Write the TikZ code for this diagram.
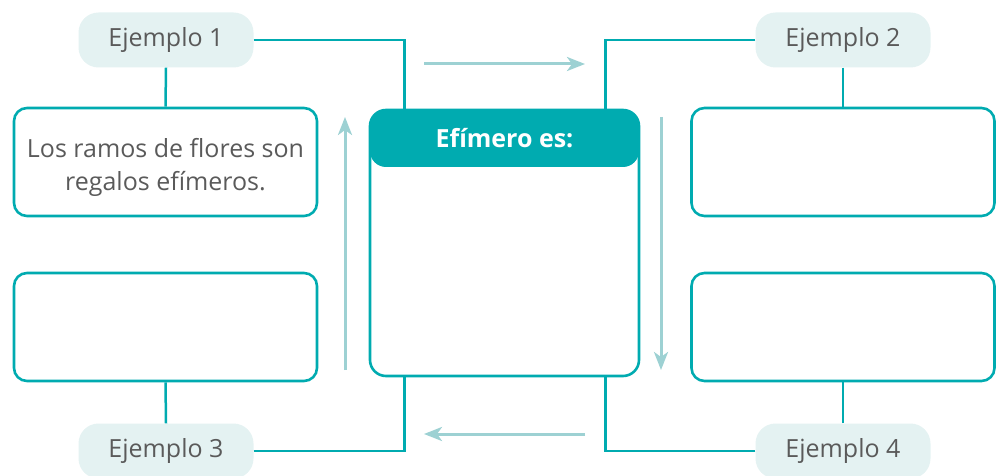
\documentclass[tikz,border=0pt]{standalone}
\usepackage{fontspec}
\setmainfont{Open Sans}
\usepackage{tikz}
\usetikzlibrary{positioning,calc,arrows.meta}
\definecolor{turq}{HTML}{00ABB0}
\definecolor{pillfill}{HTML}{E4F2F2}
\definecolor{flecha}{HTML}{9DD1D3}
\definecolor{gris}{HTML}{5A5A5A}

\begin{document}
\begin{tikzpicture}[x=1pt, y=-1pt,
    font=\fontsize{25}{33}\selectfont, text=gris,
    pill/.style={fill=pillfill, rounded corners=20pt, minimum width=175pt, minimum height=55pt, inner sep=0pt},
    box/.style={draw=turq, line width=2.6pt, rounded corners=13pt, minimum width=303pt, minimum height=108pt, align=center},
    link/.style={draw=turq, line width=2.5pt},
    flow/.style={draw=flecha, line width=3pt, -{Stealth[length=18pt, width=14pt, inset=5pt]}}]
    \useasboundingbox (0,0) rectangle (1002,476);

    % examples and their boxes
    \node[pill] (E1) at (166,40) {Ejemplo 1};
    \node[pill] (E2) at (843,40) {Ejemplo 2};
    \node[pill] (E3) at (166,451) {Ejemplo 3};
    \node[pill] (E4) at (843,451) {Ejemplo 4};

    \node[box] (B1) at (165.5,162) {};
    \node[box] (B2) at (843,162) {};
    \node[box] (B3) at (165.5,327) {};
    \node[box] (B4) at (843,327) {};
    \node[align=center] (txt1) at ([yshift=-5pt]B1.center) {Los ramos de flores son\\regalos efímeros.};

    \foreach \i in {1,2} {
        \draw[link] (E\i.south) -- (B\i.north);
    }
    \foreach \i in {3,4} {
        \draw[link] (E\i.north) -- (B\i.south);
    }

    % central box
    \node[box, minimum width=269pt, minimum height=266pt, rounded corners=16pt,
        path picture={\fill[turq] (path picture bounding box.north west) rectangle ([yshift=-57pt]path picture bounding box.north east);}]
        (centro) at (504.5,243) {};
    \node[text=white, font=\fontsize{25}{33}\selectfont\bfseries] (titulo) at ([yshift=-29pt]centro.north) {Efímero es:};

    \draw[link] (E1.east) -| ([xshift=36pt]centro.north west);
    \draw[link] (E2.west) -| ([xshift=-35pt]centro.north east);
    \draw[link] (E3.east) -| ([xshift=36pt]centro.south west);
    \draw[link] (E4.west) -| ([xshift=-35pt]centro.south east);

    % cycle arrows
    \coordinate (t0) at (424,64);  \coordinate (t1) at (585,64);
    \coordinate (r0) at (661,117); \coordinate (r1) at (661,370);
    \coordinate (b0) at (585,434); \coordinate (b1) at (424,434);
    \coordinate (l0) at (345,370); \coordinate (l1) at (345,117);
    \foreach \a/\b in {t0/t1,r0/r1,b0/b1,l0/l1} {
        \draw[flow] (\a) -- (\b);
    }
\end{tikzpicture}
\end{document}
